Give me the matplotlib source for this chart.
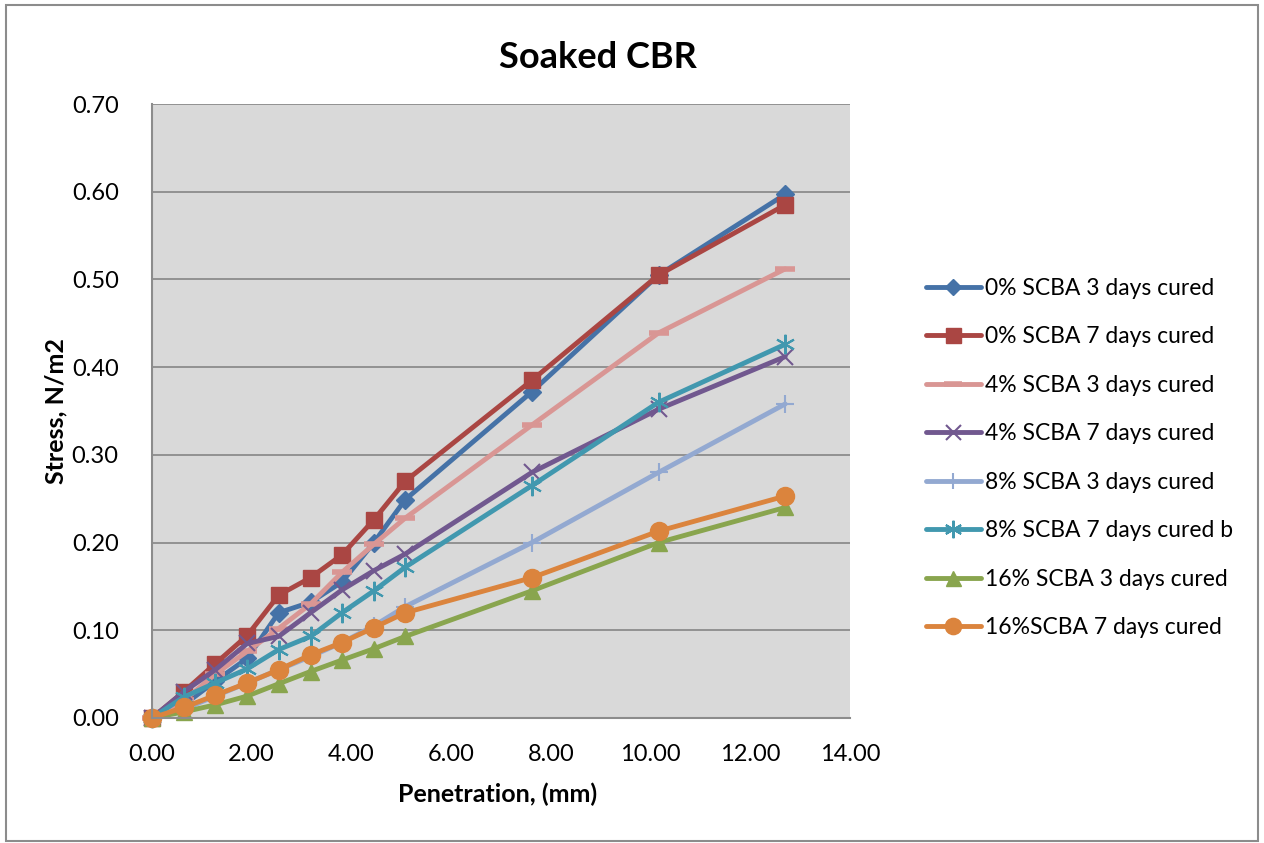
import matplotlib
matplotlib.use("Agg")
import matplotlib.pyplot as plt
from matplotlib.patches import Rectangle

penetration = [0.00, 0.64, 1.27, 1.91, 2.54, 3.18, 3.81, 4.45, 5.08, 7.62, 10.16, 12.70]

s0_3 = [0.000, 0.015, 0.042, 0.068, 0.120, 0.132, 0.155, 0.200, 0.249, 0.372, 0.505, 0.597]
s0_7 = [0.000, 0.030, 0.062, 0.094, 0.140, 0.160, 0.186, 0.226, 0.270, 0.385, 0.505, 0.585]
s4_3 = [0.000, 0.020, 0.050, 0.076, 0.102, 0.130, 0.166, 0.198, 0.228, 0.334, 0.439, 0.512]
s4_7 = [0.000, 0.030, 0.055, 0.085, 0.093, 0.120, 0.146, 0.168, 0.187, 0.280, 0.352, 0.412]
s8_3 = [0.000, 0.010, 0.025, 0.040, 0.055, 0.070, 0.086, 0.105, 0.127, 0.200, 0.280, 0.358]
s8_7 = [0.000, 0.024, 0.040, 0.056, 0.078, 0.093, 0.120, 0.145, 0.172, 0.265, 0.360, 0.426]
s16_3 = [0.000, 0.007, 0.015, 0.025, 0.039, 0.053, 0.066, 0.079, 0.093, 0.145, 0.200, 0.240]
s16_7 = [0.000, 0.012, 0.026, 0.040, 0.055, 0.072, 0.086, 0.103, 0.120, 0.160, 0.213, 0.253]

labels = ["0% SCBA 3 days cured", "0% SCBA 7 days cured", "4% SCBA 3 days cured",
          "4% SCBA 7 days cured", "8% SCBA 3 days cured", "8% SCBA 7 days cured b",
          "16% SCBA 3 days cured", "16%SCBA 7 days cured"]
series = [s0_3, s0_7, s4_3, s4_7, s8_3, s8_7, s16_3, s16_7]

colors = ["#4572A7", "#AA4643", "#D99694", "#71588F", "#93A9D1", "#4198AF", "#89A54E", "#DB843D"]
markers = ["D", "s", "_", "x", "+", "*", "^", "o"]
msizes = [9, 12, 14, 12, 13, 14, 12, 13]
mews = [1, 1, 4, 1.5, 1.5, 1.5, 1, 1]

plt.rcParams['font.family'] = ['Lato', 'DejaVu Sans']

fig = plt.figure(figsize=(12.64, 8.43), dpi=100)
ax = fig.add_axes([152/1264, 1-718/843, (850-152)/1264, (718-104)/843])
ax.set_facecolor("#D9D9D9")

for y, lab, c, m, ms, mew in zip(series, labels, colors, markers, msizes, mews):
    mk = (6, 2, 0) if m == "*" else m
    ax.plot(penetration, y, color=c, lw=3.5, marker=mk, ms=ms, mew=mew,
            mec=c, mfc=c, label=lab, solid_joinstyle="round", solid_capstyle="round")

ax.set_xlim(0, 14)
ax.set_ylim(0, 0.70)
xt = [0, 2, 4, 6, 8, 10, 12, 14]
ax.set_xticks(xt)
ax.set_xticklabels([f"{v:.2f}" for v in xt])
yt = [i / 10 for i in range(8)]
ax.set_yticks(yt)
ax.set_yticklabels([f"{v:.2f}" for v in yt])
ax.yaxis.grid(True, color="#8C8C8C", lw=1.3)
ax.set_axisbelow(True)
ax.tick_params(axis="both", length=0, labelsize=17)
ax.tick_params(axis="y", pad=24)
ax.tick_params(axis="x", pad=19)
for s in ["top", "right"]:
    ax.spines[s].set_visible(False)
for s in ["left", "bottom"]:
    ax.spines[s].set_color("#8C8C8C")
    ax.spines[s].set_linewidth(1.5)
for line in ax.get_lines():
    line.set_clip_on(False)

ax.set_xlabel("Penetration, (mm)", fontsize=18, fontweight="bold")
ax.set_ylabel("Stress, N/m2", fontsize=18, fontweight="bold")
ax.xaxis.set_label_coords(498/1264, 1-794/843, transform=fig.transFigure)
ax.xaxis.label.set_va("center")
ax.yaxis.set_label_coords(56/1264, 1-411/843, transform=fig.transFigure)
ax.yaxis.label.set_va("center")
fig.text(598/1264, 1-57/843, "Soaked CBR", ha="center", va="center",
         fontsize=26, fontweight="bold")

leg = ax.legend(loc="center left", bbox_to_anchor=(905/1264, 1-458/843),
                bbox_transform=fig.transFigure, frameon=False, fontsize=16.5,
                handlelength=2.4, handletextpad=0.2, labelspacing=1.2, markerscale=0.9)

fig.patches.append(Rectangle((6/1264, 2/843), 1252/1264, 836/843, transform=fig.transFigure,
                             fill=False, edgecolor="#8C8C8C", lw=1.5))

fig.savefig("out.png", dpi=100)
